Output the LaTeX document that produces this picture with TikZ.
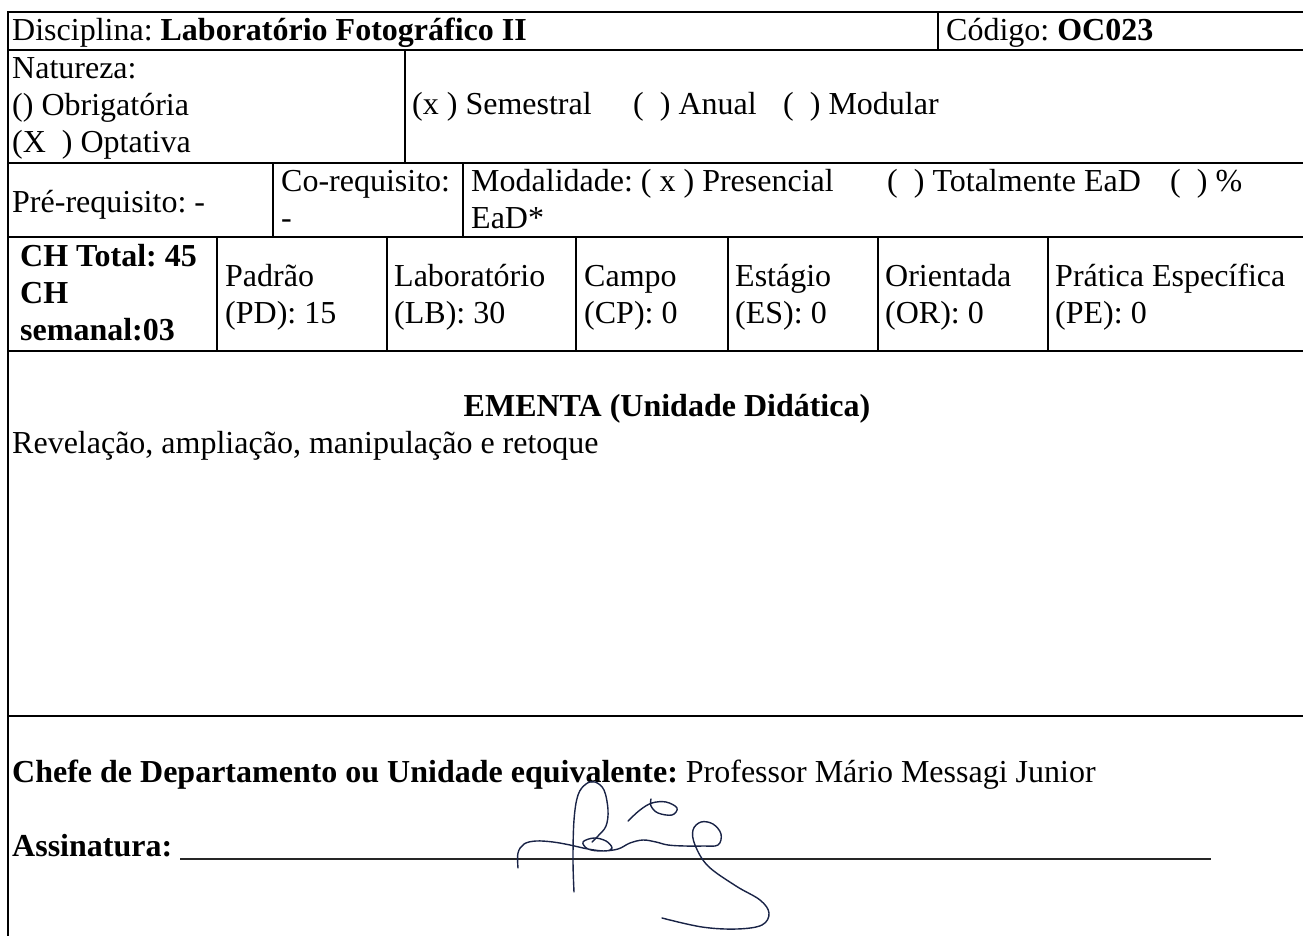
\documentclass[tikz,border=0pt]{standalone}
\usepackage{fontspec}
\setmainfont{Liberation Serif}
\definecolor{ink}{RGB}{25,35,70}
\frenchspacing

\begin{document}
\begin{tikzpicture}[line cap=rect,line join=round,x=1pt,y=-1pt,
    txt/.style={anchor=base west,inner sep=0pt,font=\fontsize{32}{37}\selectfont},
    rules/.style={line width=2.6pt},
    sig/.style={ink,line width=1.4pt,line cap=round}]
            \useasboundingbox (0,0) rectangle (1303,936);
            \clip (0,0) rectangle (1303,936);
            % horizontal rules
            \draw [rules] (8,12) -- (1320,12);
            \draw [rules] (8,50) -- (1320,50);
            \draw [rules] (8,163) -- (1320,163);
            \draw [rules] (8,237) -- (1320,237);
            \draw [rules] (8,351) -- (1320,351);
            \draw [rules] (8,716) -- (1320,716);
            % vertical rules
            \draw [rules] (8,12) -- (8,950);
            \draw [rules] (938,12) -- (938,50);
            \draw [rules] (405,50) -- (405,163);
            \draw [rules] (273,163) -- (273,237);
            \draw [rules] (463,163) -- (463,237);
            \draw [rules] (217,237) -- (217,351);
            \draw [rules] (387,237) -- (387,351);
            \draw [rules] (576,237) -- (576,351);
            \draw [rules] (728,237) -- (728,351);
            \draw [rules] (878,237) -- (878,351);
            \draw [rules] (1048,237) -- (1048,351);
            % row 1
            \node [txt] (disc) at (12,40.5) {Disciplina: \textbf{Laboratório Fotográfico II}};
            \node [txt] (cod) at (946,40.5) {Código: \textbf{OC023}};
            % row 2
            \node [txt] (nat1) at (12,78.5) {Natureza:};
            \node [txt] (nat2) at (12,115.5) {() Obrigatória};
            \node [txt] (nat3) at (12,152.5) {(X\ \ ) Optativa};
            \node [txt] (sem) at (412,115) {(x ) Semestral};
            \node [txt] (anu) at (633,115) {(\ \ ) Anual};
            \node [txt] (modu) at (783,115) {(\ \ ) Modular};
            % row 3
            \node [txt] (pre) at (12,212) {Pré-requisito: -};
            \node [txt] (co1) at (281,192) {Co-requisito:};
            \node [txt] (co2) at (281,229) {-};
            \node [txt] (mod1) at (471,192) {Modalidade: ( x ) Presencial};
            \node [txt] (tot) at (887,192) {(\ \ ) Totalmente EaD};
            \node [txt] (pct) at (1170,192) {(\ \ ) \%};
            \node [txt] (mod2) at (471,229) {EaD*};
            % row 4
            \node [txt,font=\fontsize{32}{37}\selectfont\bfseries] (ch1) at (20,266) {CH Total: 45};
            \node [txt,font=\fontsize{32}{37}\selectfont\bfseries] (ch2) at (20,303) {CH};
            \node [txt,font=\fontsize{32}{37}\selectfont\bfseries] (ch3) at (20,340) {semanal:03};
            \node [txt] (pd1) at (225,286) {Padrão};
            \node [txt] (pd2) at (225,323) {(PD): 15};
            \node [txt] (lb1) at (394,286) {Laboratório};
            \node [txt] (lb2) at (394,323) {(LB): 30};
            \node [txt] (cp1) at (584,286) {Campo};
            \node [txt] (cp2) at (584,323) {(CP): 0};
            \node [txt] (es1) at (735,286) {Estágio};
            \node [txt] (es2) at (735,323) {(ES): 0};
            \node [txt] (or1) at (885,286) {Orientada};
            \node [txt] (or2) at (885,323) {(OR): 0};
            \node [txt] (pe1) at (1055,286) {Prática Específica};
            \node [txt] (pe2) at (1055,323) {(PE): 0};
            % row 5
            \node [txt,anchor=base] (ement) at (667,416.5) {\textbf{EMENTA (Unidade Didática)}};
            \node [txt] (rev) at (12,453.5) {Revelação, ampliação, manipulação e retoque};
            % row 6
            \node [txt] (chefe) at (12,782) {\textbf{Chefe de Departamento ou Unidade equivalente:} Professor Mário Messagi Junior};
            \node [txt] (ass) at (12,856) {\textbf{Assinatura:}};
            \draw [line width=1.6pt,black!85,line cap=butt] ([xshift=8pt,yshift=-3pt]ass.base east) -- (1211,859);
            % signature
            \draw [sig] plot[smooth,tension=0.6] coordinates {(518,868) (518,853) (524,844) (536,841) (553,842) (570,845) (588,849) (605,851) (612,848) (606,841) (594,838) (583,842) (588,849) (602,851) (618,849) (630,843) (643,840) (656,842) (668,845) (685,846) (703,846) (718,845) (721,834) (713,824) (701,822) (693,830) (695,845) (708,866) (736,886) (760,900) (769,913) (762,925) (737,929) (702,927) (662,918)};
            \draw [sig] plot[smooth,tension=0.6] coordinates {(574,892) (573,860) (574,820) (578,795) (586,784) (595,782) (604,790) (608,810) (606,826) (598,836) (592,842)};
            \draw [sig] plot[smooth,tension=0.6] coordinates {(628,821) (640,810) (652,803) (666,802) (677,808) (672,815) (658,813) (651,806) (651,799)};
\end{tikzpicture}
\end{document}
